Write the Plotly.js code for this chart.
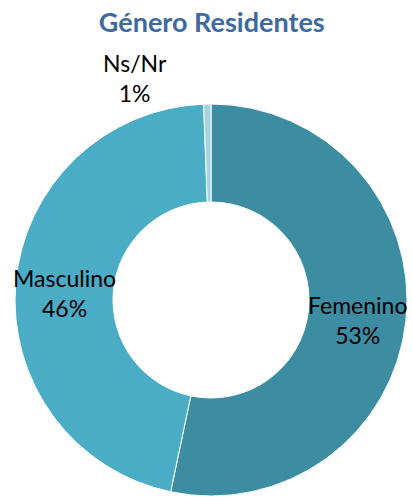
<!DOCTYPE html>
<html>
<head>
<meta charset="utf-8">
<script src="https://cdn.plot.ly/plotly-3.0.1.min.js"></script>
<style>html,body{margin:0;padding:0;background:#fff;}#chart{width:412px;height:497px;}</style>
</head>
<body>
<div id="chart"></div>
<script>
const categories = ['Femenino', 'Masculino', 'Ns/Nr'];
const values = [53.3, 46.1, 0.6];
const sliceColors = ['#3C8CA2', '#4BACC6', '#A6D3E0'];

const W = 412, H = 497;
const M = {l: 12, r: 2, t: 104, b: 1};
const labelFont = {family: 'Lato, sans-serif', size: 23, color: '#000000'};

const trace = {
  type: 'pie',
  labels: categories,
  values: values,
  hole: 0.5,
  sort: false,
  direction: 'clockwise',
  rotation: 0,
  marker: {colors: sliceColors, line: {color: '#ffffff', width: 1}},
  textinfo: 'none',
  hoverinfo: 'label+percent',
  showlegend: false
};

// label positions derived from slice centroid angles
const total = values.reduce((a, b) => a + b, 0);
const pw = W - M.l - M.r, ph = H - M.t - M.b;
const cx = M.l + pw / 2, cy = M.t + ph / 2;
const R = Math.min(pw, ph) / 2;
const annotations = [];
let cum = 0;
values.forEach((v, i) => {
  const mid = (cum + v / 2) / total;
  cum += v;
  const ang = mid * 2 * Math.PI;
  const txt = categories[i] + '<br>' + Math.round(v / total * 100) + '%';
  let px, py;
  if (i < 2) {
    const r = 0.75 * R;
    px = cx + r * Math.sin(ang);
    py = cy - r * Math.cos(ang) + 5;
  } else {
    px = 135; py = 78;
  }
  annotations.push({
    text: txt,
    xref: 'paper', yref: 'paper',
    x: (px - M.l) / pw, y: (H - M.b - py) / ph,
    xanchor: 'center', yanchor: 'middle',
    showarrow: false,
    font: labelFont
  });
});

const layout = {
  width: W,
  height: H,
  margin: M,
  paper_bgcolor: '#ffffff',
  title: {
    text: '<b>Género Residentes</b>',
    font: {family: 'Lato, sans-serif', size: 27, color: '#3E6AA1'},
    x: 0.514, xanchor: 'center',
    y: 0.955, yanchor: 'middle', yref: 'container'
  },
  annotations: annotations
};

Plotly.newPlot('chart', [trace], layout, {displayModeBar: false, staticPlot: true});
</script>
</body>
</html>
